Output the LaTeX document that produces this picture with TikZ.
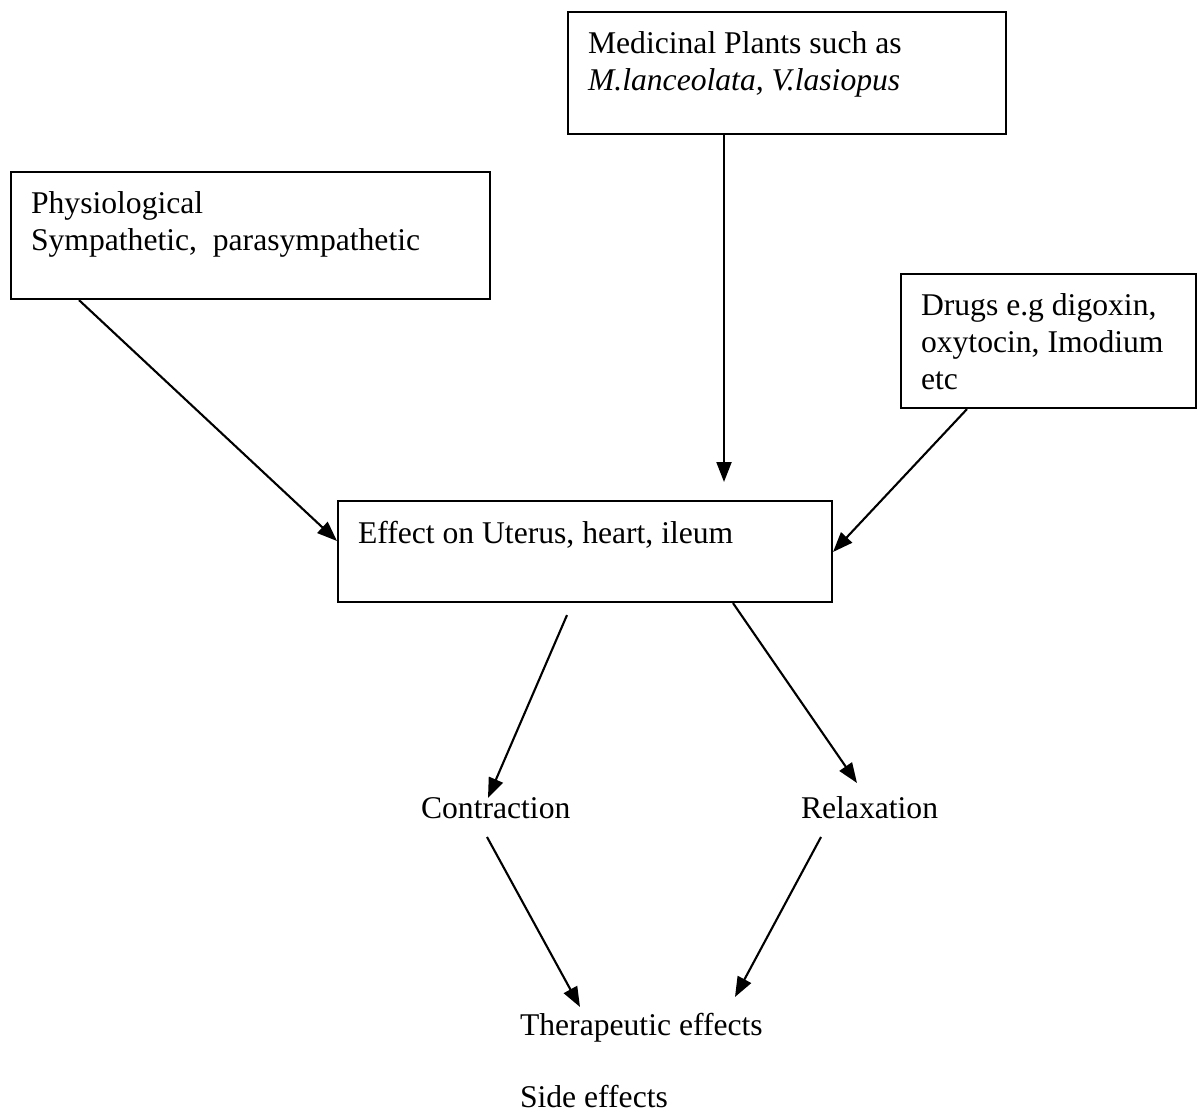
\documentclass[tikz,border=0pt]{standalone}
\usepackage{fontspec}
\setmainfont{Liberation Serif}
\usepackage{tikz}
\usetikzlibrary{arrows.meta}
\usetikzlibrary{calc}
\usetikzlibrary{positioning}
\tikzstyle{bx} = [rectangle, draw, anchor=north west, inner sep=0.4cm]
\tikzstyle{lbl} = [anchor=base west, inner sep=0pt]

\begin{document}
\begin{tikzpicture}[->,>={Triangle[length=0.4cm,width=0.3cm]},line width=1.2pt,
                    x=0.02cm,y=-0.02cm,font=\fontsize{18}{20.9}\selectfont]
  \useasboundingbox (0,0) rectangle (1198,1114);

  \node[bx] (med)   at (567,11)  {\parbox[t][1.64cm][t]{7.96cm}{Medicinal Plants such as\\ \textit{M.lanceolata, V.lasiopus}}};
  \node[bx] (phys)  at (10,171)  {\parbox[t][1.74cm][t]{8.78cm}{Physiological\\ Sympathetic, \ parasympathetic}};
  \node[bx] (drugs) at (900,273) {\parbox[t][1.88cm][t]{5.1cm}{Drugs e.g digoxin,\\ oxytocin, Imodium\\ etc}};
  \node[bx] (eff)   at (337,500) {\parbox[t][1.22cm][t]{9.08cm}{Effect on Uterus, heart, ileum}};

  \node[lbl] (con)  at (420,819)  {Contraction};
  \node[lbl] (rel)  at (800,819)  {Relaxation};
  \node[lbl] (thr)  at (519,1035) {Therapeutic effects};
  \node[lbl] (side) at (519,1107) {Side effects};

  \path
  ($(phys.south west)+(69,0)$)   edge ($(eff.north west)+(0,41)$)
  ($(med.south west)+(157,0)$)   edge ($(eff.north west)+(387,-18)$)
  ($(drugs.south west)+(67,0)$)  edge ($(eff.north east)+(0,52)$)
  ($(eff.south west)+(230,12)$)  edge ($(con.base west)+(68,-21)$)
  ($(eff.south west)+(396,0)$)   edge ($(rel.base west)+(57,-36)$)
  ($(con.base west)+(67,18)$)    edge ($(thr.base west)+(61,-28)$)
  ($(rel.base west)+(21,18)$)    edge ($(thr.base west)+(216,-38)$);
\end{tikzpicture}
\end{document}
